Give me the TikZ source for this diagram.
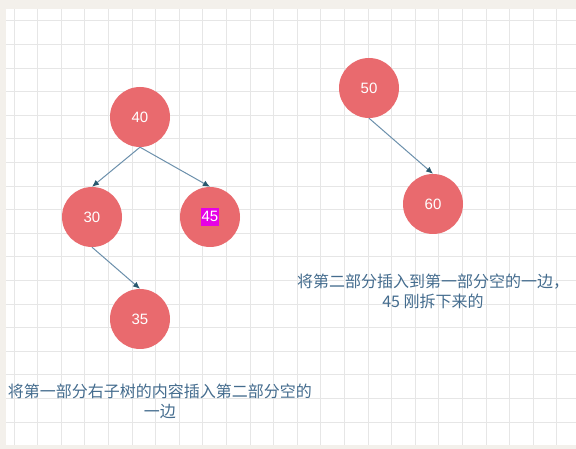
\documentclass[tikz,border=0pt]{standalone}
\usepackage{fontspec}
\usetikzlibrary{arrows.meta,trees}
\newfontfamily\cjk{Noto Sans CJK SC}
\newfontfamily\numfont{Liberation Sans}
\definecolor{paper}{RGB}{243,240,235}
\definecolor{gridgray}{RGB}{230,230,230}
\definecolor{nodered}{RGB}{233,106,110}
\definecolor{edgeblue}{RGB}{108,144,172}
\definecolor{tipteal}{RGB}{40,88,110}
\definecolor{notecolor}{RGB}{68,108,142}
\definecolor{hlmagenta}{RGB}{230,0,230}
\newcommand{\hilite}[1]{{\setlength{\fboxsep}{0.5pt}\colorbox{hlmagenta}{\rule[-3.5pt]{0pt}{17pt}#1}}}
\begin{document}
\begin{tikzpicture}[
			x=1pt, y=1pt,
			numnode/.style={circle, fill=nodered, minimum size=60pt, inner sep=0pt, text=white, font=\numfont\fontsize{15}{17}\selectfont},
			note/.style={align=center, text=notecolor, inner sep=0pt, font=\cjk\fontsize{16}{20}\selectfont},
			gridline/.style={draw=gridgray, line width=1pt},
			edge from parent/.style={draw=edgeblue, line width=1pt, -{Latex[length=7pt,width=6pt,color=tipteal]}},
			edge from parent path={(\tikzparentnode.south) -- (\tikzchildnode.north)},
			level 1/.style={grow via three points={one child at (48,-102) and two children at (-48,-100) and (70,-100)}},
			level 2/.style={grow via three points={one child at (48,-102) and two children at (-48,-102) and (48,-102)}}
		]
		% paper and grid
		\useasboundingbox (0,0) rectangle (576,449);
		\fill[paper] (0,0) rectangle (576,449);
		\fill[white] (6,4) rectangle (576,440);
		\foreach \k in {0,...,23}
			\draw[gridline] ({14+23.6*\k},4) -- ({14+23.6*\k},440);
		\foreach \k in {0,...,17}
			\draw[gridline] (6,{428-23.6*\k}) -- (576,{428-23.6*\k});
		% first part
		\node[numnode] (n40) at (140,332) {40}
		child {
				node[numnode] (n30) {30}
				child {node[numnode] (n35) {35}}
			}
		child {node[numnode] (n45) {\hilite{45}}};
		% second part
		\begin{scope}[level 1/.style={grow via three points={one child at (64,-116) and two children at (-64,-116) and (64,-116)}}]
			\node[numnode] (n50) at (369,361) {50}
			child {node[numnode] (n60) {60}};
		\end{scope}
		% notes
		\node[note] (noteright) at (433,158) {将第二部分插入到第一部分空的一边，\\45 刚拆下来的};
		\node[note] (noteleft) at (160,48) {将第一部分右子树的内容插入第二部分空的\\一边};
	\end{tikzpicture}
\end{document}
